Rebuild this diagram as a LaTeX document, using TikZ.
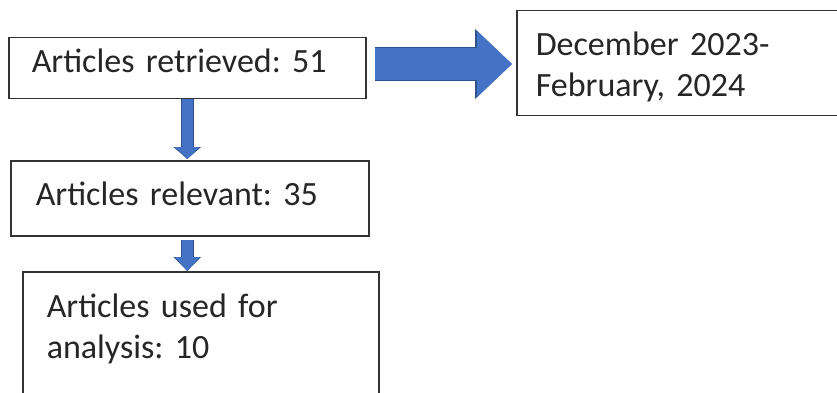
\documentclass[tikz,border=0pt]{standalone}
\usepackage{fontspec}
\setmainfont{Carlito}
\frenchspacing
\usetikzlibrary{arrows.meta}
\definecolor{arrowblue}{HTML}{4472C4}
\definecolor{arrowedge}{HTML}{2F528F}
\begin{document}
\begin{tikzpicture}[x=1pt,y=-1pt,
	box/.style={draw=black!80,line width=1.5pt,anchor=north west,inner ysep=0pt,align=left,text=black!85,font=\fontsize{34}{41}\selectfont},
	bigarrow/.style={line width=32pt,draw=arrowblue,shorten <=8pt,shorten >=4pt,-{Triangle[length=35pt,width=64pt]},
		preaction={draw=arrowedge,line width=34pt,-{Triangle[length=37pt,width=68pt]}}},
	downarrow/.style={line width=11pt,draw=arrowblue,-{Triangle[length=#1,width=24pt]},
		preaction={draw=arrowedge,line width=13pt,-{Triangle[length=#1,width=27pt]}}}]
		
		\clip (0,0) rectangle (837,393);
		\fill[white] (0,0) rectangle (837,393);
		
		\node[box,text width=311pt,inner xsep=23pt,text height=35pt,text depth=26pt] (retrieved) at (8,37) {Articles retrieved: 51};
		\node[box,text width=308pt,inner xsep=25pt,text height=45pt,text depth=30pt] (relevant) at (10,160) {Articles relevant: 35};
		\node[box,text width=308pt,inner xsep=24pt,text height=46pt,text depth=150pt] (used) at (22,271) {Articles used for\\analysis: 10};
		\node[box,text width=362pt,inner xsep=19pt,text height=45pt,text depth=60pt] (period) at (516,10) {December 2023-\\February, 2024};
		
		\coordinate (mid) at (0,64);
		\draw[bigarrow] (retrieved.east |- mid) -- (period.west |- mid);
		\draw[downarrow=12pt,shorten >=1pt] (retrieved.south) -- (retrieved.south |- relevant.north);
		\draw[downarrow=14pt,shorten <=3pt] (relevant.south -| retrieved.south) -- (retrieved.south |- used.north);
		
		\end{tikzpicture}
\end{document}
